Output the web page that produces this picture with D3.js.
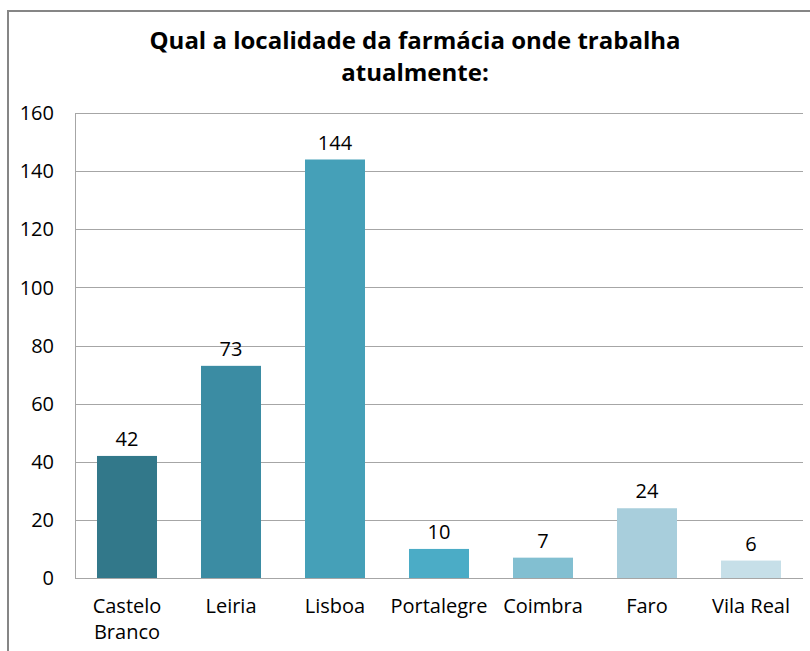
<!DOCTYPE html>
<html>
<head>
<meta charset="utf-8">
<script src="https://cdn.jsdelivr.net/npm/d3@7"></script>
<style>
  body { margin: 0; background: #fff; }
  text { font-family: "Open Sans", sans-serif; fill: #000; }
</style>
</head>
<body>
<svg id="chart" width="810" height="651"></svg>
<script>
const titleLines = ['Qual a localidade da farmácia onde trabalha', 'atualmente:'];
const categories = ['Castelo Branco', 'Leiria', 'Lisboa', 'Portalegre', 'Coimbra', 'Faro', 'Vila Real'];
const values = [42, 73, 144, 10, 7, 24, 6];
const colors = ['#32788a', '#3b8ca3', '#45a0b8', '#4bacc6', '#82bfd1', '#a8cedc', '#c6dfe8'];
const yTicks = [0, 20, 40, 60, 80, 100, 120, 140, 160];

const svg = d3.select('#chart');

// Outer chart frame (right/bottom edges fall outside the window)
svg.append('rect')
    .attr('x', 8)
    .attr('y', 11)
    .attr('width', 814)
    .attr('height', 660)
    .attr('fill', 'none')
    .attr('stroke', '#868686')
    .attr('stroke-width', 2);

// Title, one text element per line
svg.append('g')
    .selectAll('text')
    .data(titleLines)
    .join('text')
    .attr('x', 415)
    .attr('y', (d, i) => 49 + i * 32)
    .attr('text-anchor', 'middle')
    .style('font-size', '24px')
    .style('font-weight', 'bold')
    .text(d => d);

const plotLeft = 75;
const plotRight = 803;
const plotTop = 113;
const plotBottom = 578;

const x = d3.scaleBand()
    .domain(categories)
    .range([plotLeft, plotRight])
    .paddingInner(0.423)
    .paddingOuter(0.2115);

const y = d3.scaleLinear()
    .domain([0, 160])
    .range([plotBottom, plotTop]);

// Gridlines
svg.append('g')
    .selectAll('line')
    .data(yTicks)
    .join('line')
    .attr('x1', plotLeft)
    .attr('x2', plotRight)
    .attr('y1', d => Math.round(y(d)) + 0.5)
    .attr('y2', d => Math.round(y(d)) + 0.5)
    .attr('stroke', '#a6a6a6')
    .attr('stroke-width', 1);

// Y axis line
svg.append('line')
    .attr('x1', plotLeft + 0.5)
    .attr('x2', plotLeft + 0.5)
    .attr('y1', plotTop)
    .attr('y2', plotBottom)
    .attr('stroke', '#a6a6a6');

// Y tick labels
svg.append('g')
    .selectAll('text')
    .data(yTicks)
    .join('text')
    .attr('x', 54)
    .attr('y', d => y(d))
    .attr('dy', '0.36em')
    .attr('text-anchor', 'end')
    .style('font-size', '20px')
    .text(d => d);

// Bars
svg.append('g')
    .selectAll('rect')
    .data(values)
    .join('rect')
    .attr('x', (d, i) => x(categories[i]))
    .attr('y', d => y(d))
    .attr('width', x.bandwidth())
    .attr('height', d => plotBottom - y(d))
    .attr('fill', (d, i) => colors[i]);

// Value labels
svg.append('g')
    .selectAll('text')
    .data(values)
    .join('text')
    .attr('x', (d, i) => x(categories[i]) + x.bandwidth() / 2)
    .attr('y', d => y(d) - 10)
    .attr('text-anchor', 'middle')
    .style('font-size', '20px')
    .text(d => d);

// Category labels (the long two-word label wraps)
svg.append('g')
    .selectAll('text')
    .data(categories)
    .join('text')
    .attr('x', d => x(d) + x.bandwidth() / 2)
    .attr('y', 613)
    .attr('text-anchor', 'middle')
    .style('font-size', '20px')
    .each(function (d) {
      const lines = d === 'Castelo Branco' ? d.split(' ') : [d];
      d3.select(this).selectAll('tspan')
          .data(lines)
          .join('tspan')
          .attr('x', x(d) + x.bandwidth() / 2)
          .attr('dy', (l, i) => (i === 0 ? 0 : 26))
          .text(l => l);
    });
</script>
</body>
</html>
